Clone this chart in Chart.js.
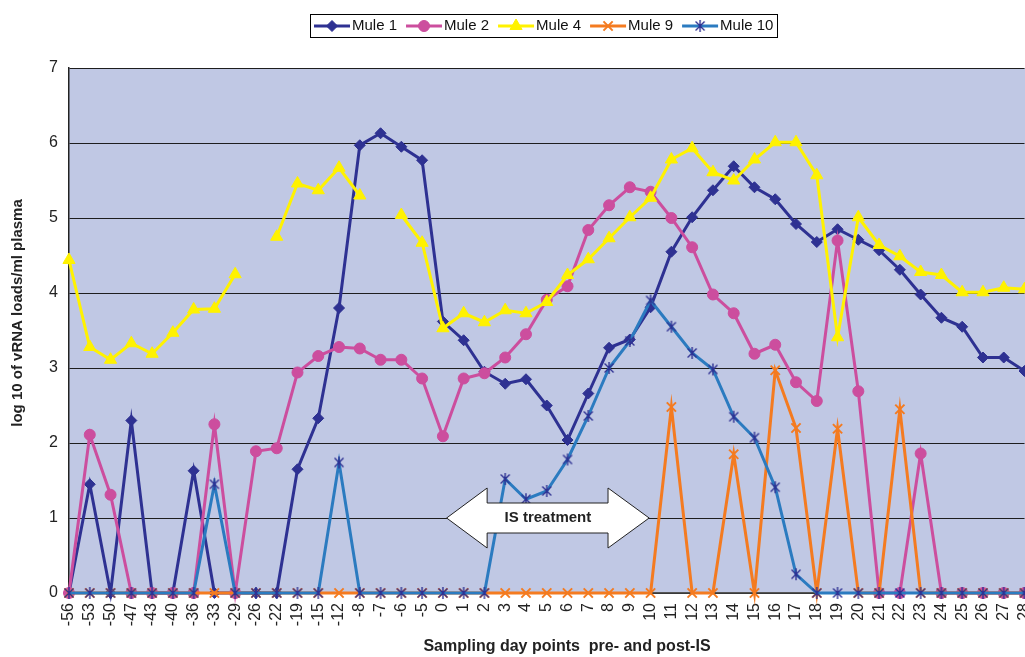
<!DOCTYPE html>
<html><head><meta charset="utf-8">
<script src="https://cdn.jsdelivr.net/npm/chart.js@4.4.1/dist/chart.umd.min.js"></script>
<style>html,body{margin:0;padding:0;background:#fff;overflow:hidden}#wrap{width:1025px;height:657px;position:relative;overflow:hidden}</style>
</head><body><div id="wrap"><canvas id="c" width="1033" height="657"></canvas></div>
<script>
// ---- data ----
const days = ["-56","-53","-50","-47","-43","-40","-36","-33","-29","-26","-22","-19","-15","-12","-8","-7","-6","-5",
  "0","1","2","3","4","5","6","7","8","9","10","11","12","13","14","15","16","17","18","19","20","21","22","23","24","25","26","27","28"];
const mule1 = [0,1.45,0,2.30,0,0,1.63,0,0,0,0,1.65,2.33,3.80,5.97,6.13,5.95,5.77,
  3.62,3.37,2.95,2.79,2.85,2.50,2.04,2.66,3.27,3.38,3.81,4.55,5.01,5.37,5.69,5.41,5.25,4.92,4.68,4.85,4.71,4.57,4.31,3.98,3.67,3.55,3.14,3.14,2.96];
const mule2 = [0,2.11,1.31,0,0,0,0,2.25,0,1.89,1.93,2.94,3.16,3.28,3.26,3.11,3.11,2.86,
  2.09,2.86,2.93,3.14,3.45,3.91,4.09,4.84,5.17,5.41,5.35,5.00,4.61,3.98,3.73,3.19,3.31,2.81,2.56,4.70,2.69,0,0,1.86,0,0,0,0,0];
const mule4 = [4.44,3.28,3.11,3.33,3.19,3.47,3.78,3.79,4.25,null,4.75,5.46,5.37,5.67,5.30,null,5.04,4.67,
  3.53,3.73,3.61,3.77,3.73,3.88,4.24,4.45,4.73,5.01,5.27,5.78,5.93,5.61,5.50,5.78,6.01,6.01,5.57,3.41,5.01,4.64,4.49,4.28,4.24,4.01,4.01,4.07,4.05];
const mule9 = [0,0,0,0,0,0,0,0,0,0,0,0,0,0,0,0,0,0,
  0,0,0,0,0,0,0,0,0,0,0,2.48,0,0,1.85,0,2.97,2.20,0,2.19,0,0,2.45,0,0,0,0,0,0];
const mule10 = [0,0,0,0,0,0,0,1.45,0,0,0,0,0,1.74,0,0,0,0,
  0,0,0,1.52,1.25,1.36,1.78,2.36,3.00,3.36,3.90,3.55,3.20,2.98,2.35,2.07,1.41,0.25,0,0,0,0,0,0,0,0,0,0,0];
const yTicks = [0,1,2,3,4,5,6,7];
const seriesNames = ["Mule 1","Mule 2","Mule 4","Mule 9","Mule 10"];
const annotationText = "IS treatment";
const yTitle = "log 10 of vRNA loads/ml plasma";
const xTitle = "Sampling day points  pre- and post-IS";

// ---- styles ----
const FONT = '"Liberation Sans", Arial, Helvetica, sans-serif';
function makeStar(color){
  const s = 14, c = document.createElement('canvas'); c.width = s; c.height = s;
  const g = c.getContext('2d'); g.strokeStyle = color; g.lineWidth = 1.4;
  g.beginPath();
  g.moveTo(2.5,2.5); g.lineTo(11.5,11.5);
  g.moveTo(11.5,2.5); g.lineTo(2.5,11.5);
  g.moveTo(7,1); g.lineTo(7,13);
  g.stroke();
  return c;
}
const starImg = makeStar('#2E3192');

function ds(label, data, color, style, radius, opts){
  return Object.assign({
    label, data, borderColor: color, backgroundColor: color,
    pointBackgroundColor: color, pointBorderColor: color,
    borderWidth: 3, pointStyle: style, pointRadius: radius, pointBorderWidth: 1,
    spanGaps: false, tension: 0, clip: false
  }, opts || {});
}

const datasets = [
  ds(seriesNames[0], mule1, '#2E3192', 'rectRot', 5.5, {order: 4}),
  ds(seriesNames[1], mule2, '#CC4E9E', 'circle', 5.5, {order: 3}),
  ds(seriesNames[2], mule4, '#FFF200', 'triangle', 7, {order: 2}),
  ds(seriesNames[3], mule9, '#F47B20', 'crossRot', 6.5, {order: 1, pointBorderWidth: 2}),
  ds(seriesNames[4], mule10, '#2B7BC0', starImg, 7, {order: 0, pointBackgroundColor: '#2E3192', pointBorderColor: '#2E3192'})
];

const bgPlugin = {
  id: 'plotBg',
  beforeDraw(chart){
    const a = chart.chartArea, ctx = chart.ctx;
    ctx.save(); ctx.fillStyle = '#C0C8E4';
    ctx.fillRect(a.left, a.top, a.right - a.left + 10, a.bottom - a.top);
    ctx.restore();
  }
};

const arrowPlugin = {
  id: 'isArrow',
  afterDatasetsDraw(chart){
    const x = chart.scales.x, y = chart.scales.y, ctx = chart.ctx;
    const xl = x.getPixelForValue(18.18), xlb = x.getPixelForValue(20.13);
    const xrb = x.getPixelForValue(25.95), xr = x.getPixelForValue(27.93);
    const yc = y.getPixelForValue(1.0);
    const hh = y.getPixelForValue(0.6) - yc;  // head half height
    const sh = y.getPixelForValue(0.8) - yc;  // shaft half height
    ctx.save();
    ctx.beginPath();
    ctx.moveTo(xl, yc);
    ctx.lineTo(xlb, yc - hh); ctx.lineTo(xlb, yc - sh);
    ctx.lineTo(xrb, yc - sh); ctx.lineTo(xrb, yc - hh);
    ctx.lineTo(xr, yc);
    ctx.lineTo(xrb, yc + hh); ctx.lineTo(xrb, yc + sh);
    ctx.lineTo(xlb, yc + sh); ctx.lineTo(xlb, yc + hh);
    ctx.closePath();
    ctx.fillStyle = '#fff'; ctx.fill();
    ctx.strokeStyle = '#222'; ctx.lineWidth = 1; ctx.stroke();
    ctx.fillStyle = '#222'; ctx.font = 'bold 15px ' + FONT;
    ctx.textAlign = 'center'; ctx.textBaseline = 'middle';
    ctx.fillText(annotationText, (xl + xr) / 2, yc);
    ctx.restore();
  }
};

const titlesPlugin = {
  id: 'axisTitles',
  afterDraw(chart){
    const ctx = chart.ctx;
    ctx.save();
    ctx.fillStyle = '#222';
    ctx.font = 'bold 16px ' + FONT;
    ctx.textAlign = 'center'; ctx.textBaseline = 'middle';
    ctx.fillText(xTitle, 567, 647);
    ctx.translate(18, 313); ctx.rotate(-Math.PI / 2);
    ctx.font = 'bold 15px ' + FONT;
    ctx.fillText(yTitle, 0, 0);
    ctx.restore();
  }
};

const legendPlugin = {
  id: 'boxLegend',
  afterDraw(chart){
    const ctx = chart.ctx, sets = chart.data.datasets;
    ctx.save();
    ctx.font = '15px ' + FONT;
    const lineLen = 36, gapText = 2, gapItem = 9, padX = 4;
    const widths = sets.map(d => ctx.measureText(d.label).width);
    const total = padX * 2 + widths.reduce((a, w) => a + lineLen + gapText + w, 0) + gapItem * (sets.length - 1);
    const cx = 544, top = 14, h = 23;
    const x0 = Math.round(cx - total / 2);
    ctx.fillStyle = '#fff'; ctx.fillRect(x0, top, total, h);
    ctx.strokeStyle = '#000'; ctx.lineWidth = 1; ctx.strokeRect(x0 + 0.5, top + 0.5, Math.round(total), h);
    let x = x0 + padX; const y = top + h / 2 + 0.5;
    sets.forEach((d, i) => {
      ctx.strokeStyle = d.borderColor; ctx.lineWidth = d.borderWidth;
      ctx.beginPath(); ctx.moveTo(x, y); ctx.lineTo(x + lineLen, y); ctx.stroke();
      ctx.fillStyle = d.pointBackgroundColor; ctx.strokeStyle = d.pointBorderColor; ctx.lineWidth = d.pointBorderWidth;
      Chart.helpers.drawPoint(ctx, {pointStyle: d.pointStyle, radius: d.pointRadius, borderWidth: d.pointBorderWidth, rotation: 0}, x + lineLen / 2, y);
      ctx.fillStyle = '#111'; ctx.textAlign = 'left'; ctx.textBaseline = 'middle';
      ctx.fillText(d.label, x + lineLen + gapText, y);
      x += lineLen + gapText + widths[i] + gapItem;
    });
    ctx.restore();
  }
};

new Chart(document.getElementById('c'), {
  type: 'line',
  data: { labels: days, datasets },
  plugins: [bgPlugin, arrowPlugin, titlesPlugin, legendPlugin],
  options: {
    responsive: false, animation: false, events: [],
    devicePixelRatio: 1,
    layout: { padding: { top: 68, left: 0, right: 0, bottom: 0 } },
    plugins: { legend: { display: false }, tooltip: { enabled: false }, title: { display: false } },
    scales: {
      x: {
        type: 'category', offset: false,
        grid: { display: false, drawTicks: false },
        border: { display: true, color: '#555', width: 1.5 },
        ticks: { autoSkip: false, minRotation: 90, maxRotation: 90, padding: 10, color: '#222', font: { family: FONT, size: 16 } },
        afterFit(s){ s.height = 64; s.paddingLeft = 0; s.paddingRight = 0; }
      },
      y: {
        min: 0, max: 7,
        afterBuildTicks(s){ s.ticks = yTicks.map(v => ({ value: v })); },
        grid: { color: '#1e1e1e', lineWidth: 1, drawTicks: false },
        border: { display: true, color: '#222', width: 1.5 },
        ticks: { padding: 11, color: '#222', font: { family: FONT, size: 16 } },
        afterFit(s){ s.width = 69; s.paddingTop = 0; s.paddingBottom = 0; }
      }
    }
  }
});
</script></body></html>
